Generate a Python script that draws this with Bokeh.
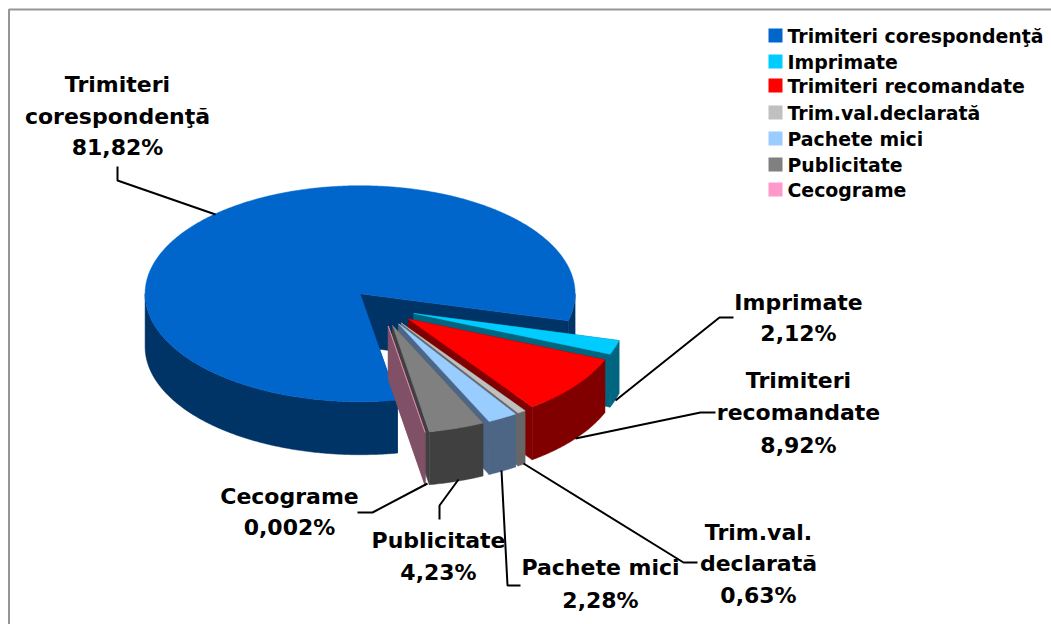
import numpy as np
from bokeh.plotting import figure
from bokeh.models import Range1d
from bokeh.embed import file_html
from bokeh.resources import INLINE
from bokeh.core.properties import value

categories = ["Trimiteri corespondenţă", "Imprimate", "Trimiteri recomandate",
              "Trim.val.declarată", "Pachete mici", "Publicitate", "Cecograme"]
shares = [81.82, 2.12, 8.92, 0.63, 2.28, 4.23, 0.002]
top_colors = ["#0066CC", "#00CCFF", "#FF0000", "#C0C0C0", "#99CCFF", "#808080", "#FF99CC"]
side_colors = ["#003366", "#006680", "#800000", "#666666", "#4D6685", "#404040", "#805066"]

label_lines = [
    ["Trimiteri", "corespondenţă", "81,82%"],
    ["Imprimate", "2,12%"],
    ["Trimiteri", "recomandate", "8,92%"],
    ["Trim.val.", "declarată", "0,63%"],
    ["Pachete mici", "2,28%"],
    ["Publicitate", "4,23%"],
    ["Cecograme", "0,002%"],
]
label_x = [117, 798, 798, 758, 600, 438, 289]
label_y = [[84, 116, 147], [302, 333], [380, 412, 445], [532, 563, 595],
           [567, 600], [540, 572], [496, 527]]
leaders = [
    [(117, 166), (117, 180), (215, 214)],
    [(615, 400), (719, 317), (733, 317)],
    [(575, 438), (700, 412), (715, 412)],
    [(523, 463), (683, 562), (697, 562)],
    [(501, 470), (507, 585), (520, 585)],
    [(458, 479), (439, 505), (439, 519)],
    [(427, 483), (372, 512), (357, 512)],
]
legend_y = [35, 61, 85, 112, 138, 164, 189]

# projection of the 3-D pie onto the page
CX, CY, RY = 382, 307, 108
RX_MAIN, RX_SLICE = 215, 212
EX, EY = 33, 18.75
DEPTH = 53
START = 80.0
FONT = value("DejaVu Sans")
W, H = 1051, 624

p = figure(width=W, height=H, output_backend="svg", toolbar_location=None,
           x_range=Range1d(0, W), y_range=Range1d(H, 0), min_border=0)
p.axis.visible = False
p.grid.visible = False
p.outline_line_color = None

# frame
p.line([8.5, 8.5, W], [H, 9, 9], line_color="#969696", line_width=2)


def arc(ax, ay, rx, a, b):
    t = np.radians(np.linspace(a, b, max(2, int(abs(b - a)) * 2 + 2)))
    return ax + rx * np.cos(t), ay + RY * np.sin(t)


def patch(xs, ys, color):
    p.patch(list(xs), list(ys), fill_color=color, line_color=color, line_width=0.5)


a0 = START
for i, s in enumerate(shares):
    a1 = a0 + s * 360.0 / sum(shares)
    mid = np.radians((a0 + a1) / 2)
    ax = CX + EX * np.cos(mid)
    ay = CY + EY * np.sin(mid)
    rx = RX_MAIN if i == 0 else RX_SLICE
    # the cut wall at the end angle
    ox, oy = arc(ax, ay, rx, a1, a1)
    patch([ax, ox[0], ox[0], ax], [ay, oy[0], oy[0] + DEPTH, ay + DEPTH], side_colors[i])
    # the cut wall at the start angle
    ox, oy = arc(ax, ay, rx, a0, a0)
    patch([ax, ox[0], ox[0], ax], [ay, oy[0], oy[0] + DEPTH, ay + DEPTH], side_colors[i])
    # outer wall: only the front half of the rim shows
    for lo, hi in ((0, 180), (360, 540)):
        l, h = max(a0, lo), min(a1, hi)
        if h > l:
            wx, wy = arc(ax, ay, rx, l, h)
            patch(np.r_[wx, wx[::-1]], np.r_[wy, wy[::-1] + DEPTH], side_colors[i])
    # top face
    tx, ty = arc(ax, ay, rx, a0, a1)
    patch(np.r_[ax, tx], np.r_[ay, ty], top_colors[i])
    a0 = a1

for pts in leaders:
    p.line([q[0] for q in pts], [q[1] for q in pts], line_color="#000000", line_width=2)

for lines, x, ys in zip(label_lines, label_x, label_y):
    p.text([x] * len(lines), ys, text=lines, text_font=FONT, text_font_style="bold",
           text_font_size="22px", text_align="center", text_baseline="middle",
           text_color="#000000")

# legend
p.rect([775] * len(categories), legend_y, width=14, height=14, fill_color=top_colors,
       line_color=None)
p.text([787] * len(categories), legend_y, text=categories, text_font=FONT,
       text_font_style="bold", text_font_size="18.9px", text_align="left",
       text_baseline="middle", text_color="#000000")

open("out.html", "w").write(file_html(p, INLINE))
